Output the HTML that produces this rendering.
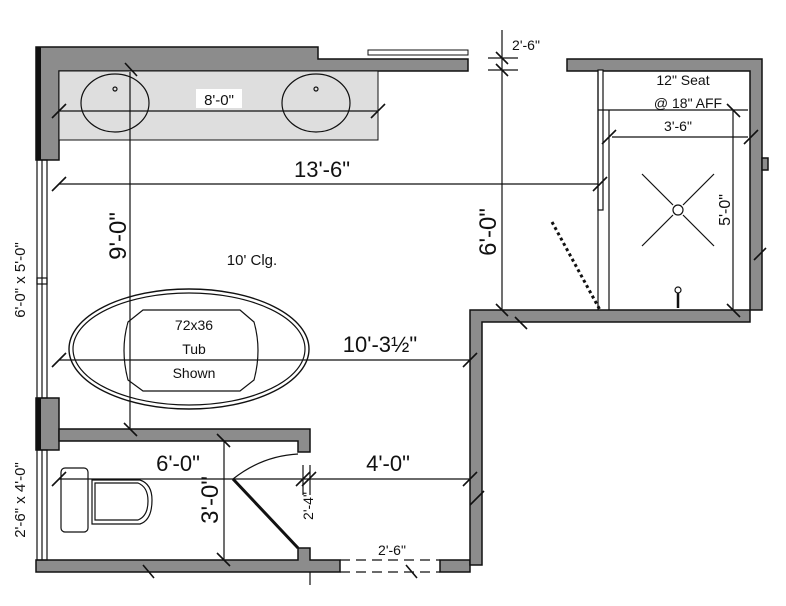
<!DOCTYPE html>
<html><head><style>body{margin:0;background:#fff}svg{display:block}text{font-family:"Liberation Sans",sans-serif;fill:#111}</style></head><body>
<svg width="786" height="606" viewBox="0 0 786 606" xmlns="http://www.w3.org/2000/svg">
<g fill="#8c8c8c" stroke="#111" stroke-width="1.5">
<path d="M36 47 H318 V59 H468 V71 H59 V160 H36 Z"/>
<rect x="36" y="398" width="23" height="52"/>
<path d="M59 429 H310 V452 H298 V441 H59 Z"/>
<path d="M36 560 H298 V548 H310 V560 H340 V572 H36 Z"/>
<rect x="440" y="560" width="30" height="12"/>
<path d="M470 310 H762 V59 H567 V71 H750 V322 H482 V565 H470 Z"/>
<rect x="762" y="158" width="6" height="12"/>
</g>
<rect x="36" y="47" width="5" height="113" fill="#111"/>
<rect x="36" y="398" width="5" height="52" fill="#111"/>
<rect x="368" y="50" width="100" height="5" fill="#fff" stroke="#111"/>
<rect x="59" y="71" width="319" height="69" fill="#dedede" stroke="#111"/>
<g fill="none" stroke="#111" stroke-width="1.2">
<ellipse cx="115" cy="103" rx="34" ry="29"/><ellipse cx="316" cy="103" rx="34" ry="29"/>
<circle cx="115" cy="89" r="2"/><circle cx="316" cy="89" r="2"/>
<rect x="37" y="160" width="10" height="238"/><line x1="42" y1="160" x2="42" y2="398"/><rect x="37" y="278" width="10" height="6"/>
<rect x="37" y="450" width="10" height="110"/><line x1="42" y1="450" x2="42" y2="560"/>
<line x1="59" y1="111" x2="378" y2="111"/>
<line x1="130" y1="72" x2="130" y2="430"/>
<line x1="59" y1="184" x2="600" y2="184"/>
<line x1="59" y1="360" x2="470" y2="360"/>
<line x1="59" y1="479" x2="470" y2="479"/>
<line x1="224" y1="441" x2="224" y2="560"/>
<line x1="502" y1="30" x2="502" y2="310"/>
<line x1="488" y1="58" x2="518" y2="58"/><line x1="488" y1="70" x2="518" y2="70"/>
<line x1="303" y1="465" x2="303" y2="495"/><line x1="310" y1="465" x2="310" y2="495"/>
<line x1="310" y1="572" x2="310" y2="585"/>
<ellipse cx="189" cy="349" rx="120" ry="60" stroke-width="1.4"/><ellipse cx="189" cy="349" rx="116" ry="56"/>
<path d="M143 310 H240 L254 322 Q262 350 254 380 L240 391 H143 L128 380 Q120 350 128 322 Z"/>
<path d="M233 479 Q262 456 298 454"/>
<line x1="233" y1="479" x2="298" y2="548" stroke-width="3"/>
<rect x="61" y="468" width="27" height="64" rx="4"/>
<path d="M92 480 H140 Q152 484 152 500 Q152 520 140 524 H92 Z"/><path d="M95 483 H138 Q148 487 148 501 Q148 516 138 520 H95 Z"/>
<g stroke-dasharray="10 6"><line x1="340" y1="560" x2="440" y2="560"/><line x1="340" y1="572" x2="440" y2="572"/></g>
<rect x="598" y="70" width="5" height="140" fill="#fff"/>
<line x1="598" y1="70" x2="598" y2="310"/><line x1="598" y1="110" x2="748" y2="110"/>
<line x1="609" y1="110" x2="609" y2="310"/><line x1="612" y1="137" x2="748" y2="137"/>
<line x1="733" y1="110" x2="733" y2="310"/>
<circle cx="678" cy="210" r="5"/>
<line x1="642" y1="174" x2="673" y2="205"/><line x1="683" y1="215" x2="714" y2="246"/>
<line x1="714" y1="174" x2="683" y2="205"/><line x1="673" y1="215" x2="642" y2="246"/>
<circle cx="678" cy="290" r="3"/><line x1="678" y1="293" x2="678" y2="308" stroke-width="2.5"/>
<line x1="552" y1="222" x2="600" y2="310" stroke-dasharray="3 3" stroke-width="3"/>
</g>
<g stroke="#111" stroke-width="1.6">
<line x1="125" y1="63" x2="137" y2="76"/><line x1="52" y1="118" x2="66" y2="104"/><line x1="371" y1="118" x2="385" y2="104"/>
<line x1="52" y1="191" x2="66" y2="177"/><line x1="593" y1="191" x2="607" y2="177"/>
<line x1="52" y1="367" x2="66" y2="353"/><line x1="463" y1="367" x2="477" y2="353"/>
<line x1="124" y1="423" x2="137" y2="436"/><line x1="217" y1="434" x2="230" y2="447"/><line x1="217" y1="553" x2="230" y2="566"/>
<line x1="143" y1="565" x2="154" y2="578"/><line x1="406" y1="565" x2="417" y2="578"/>
<line x1="52" y1="486" x2="66" y2="472"/><line x1="296" y1="486" x2="310" y2="472"/><line x1="302" y1="486" x2="316" y2="472"/><line x1="463" y1="486" x2="477" y2="472"/>
<line x1="496" y1="52" x2="508" y2="64"/><line x1="496" y1="64" x2="508" y2="76"/>
<line x1="496" y1="304" x2="508" y2="316"/><line x1="515" y1="317" x2="527" y2="329"/>
<line x1="602" y1="144" x2="616" y2="130"/><line x1="744" y1="144" x2="758" y2="130"/>
<line x1="727" y1="104" x2="740" y2="117"/><line x1="727" y1="304" x2="740" y2="317"/>
<line x1="754" y1="260" x2="766" y2="248"/><line x1="470" y1="505" x2="484" y2="491"/>
</g>
<rect x="196" y="89" width="46" height="19" fill="#fff"/>
<text x="219" y="105" font-size="15" text-anchor="middle">8'-0"</text>
<text x="322" y="177" font-size="22" text-anchor="middle">13'-6"</text>
<text x="252" y="265" font-size="15" text-anchor="middle">10' Clg.</text>
<text x="380" y="352" font-size="22" text-anchor="middle">10'-3½"</text>
<text x="194" y="330" font-size="14" text-anchor="middle">72x36</text>
<text x="194" y="354" font-size="14" text-anchor="middle">Tub</text>
<text x="194" y="378" font-size="14" text-anchor="middle">Shown</text>
<text x="178" y="471" font-size="22" text-anchor="middle">6'-0"</text>
<text x="388" y="471" font-size="22" text-anchor="middle">4'-0"</text>
<text x="392" y="555" font-size="14" text-anchor="middle">2'-6"</text>
<text x="526" y="50" font-size="14" text-anchor="middle">2'-6"</text>
<text x="683" y="85" font-size="14" text-anchor="middle">12" Seat</text>
<text x="688" y="108" font-size="14" text-anchor="middle">@ 18" AFF</text>
<text x="678" y="131" font-size="14" text-anchor="middle">3'-6"</text>
<text transform="translate(126,236) rotate(-90)" font-size="24" text-anchor="middle">9'-0"</text>
<text transform="translate(496,232) rotate(-90)" font-size="24" text-anchor="middle">6'-0"</text>
<text transform="translate(218,500) rotate(-90)" font-size="24" text-anchor="middle">3'-0"</text>
<text transform="translate(730,210) rotate(-90)" font-size="16" text-anchor="middle">5'-0"</text>
<text transform="translate(313,506) rotate(-90)" font-size="14" text-anchor="middle">2'-4"</text>
<text transform="translate(25,280) rotate(-90)" font-size="15" text-anchor="middle">6'-0" x 5'-0"</text>
<text transform="translate(25,500) rotate(-90)" font-size="15" text-anchor="middle">2'-6" x 4'-0"</text>
</svg>
</body></html>
